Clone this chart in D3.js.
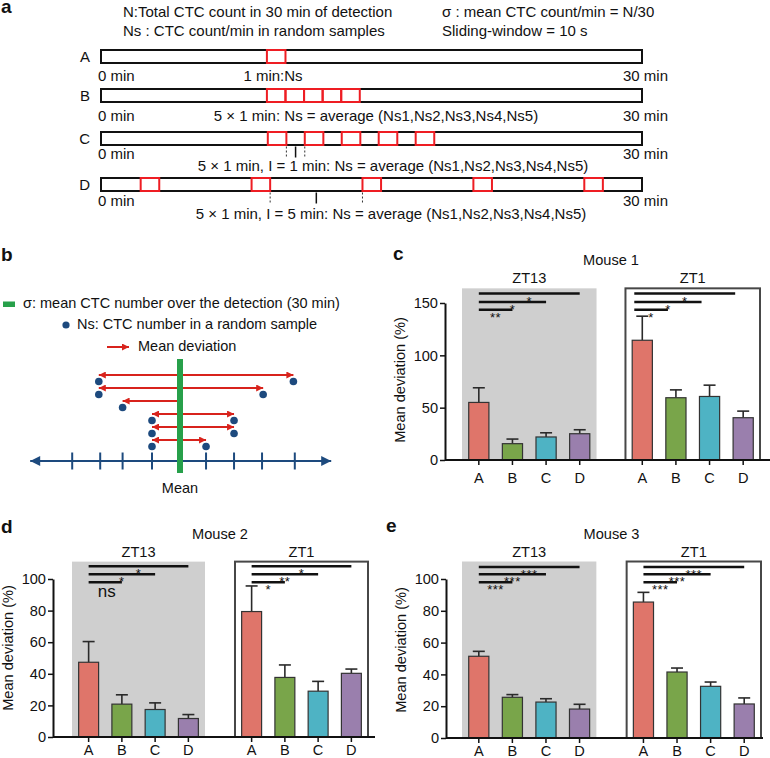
<!DOCTYPE html>
<html><head><meta charset="utf-8">
<script src="https://cdn.jsdelivr.net/npm/d3@7"></script>
<style>
body{margin:0;background:#fff}
svg{display:block;font-family:"Liberation Sans",Arial,Helvetica,sans-serif}
</style>
</head><body>
<svg id="chart" width="770" height="758"></svg>
<script>
// ================= DATA =================
const methods = ['A', 'B', 'C', 'D'];
const groups = ['ZT13', 'ZT1'];

// panel a: start time (min) of each 1-min sampling window
const samplesA = [9.2];
const samplesB = [9.2, 10.23, 11.26, 12.29, 13.32];
const samplesC = [9.25, 11.3, 13.35, 15.4, 17.45];
const samplesD = [2.2, 8.35, 14.5, 20.65, 26.8];
const sampleWidth = 1.03;
const totalMinutes = 30;
const headerLeft = ['N:Total CTC count in 30 min of detection', 'Ns : CTC count/min in random samples'];
const headerRight = ['σ : mean CTC count/min = N/30', 'Sliding-window = 10 s'];
const rowCaptions = [
  '1 min:Ns',
  '5 × 1 min: Ns = average (Ns1,Ns2,Ns3,Ns4,Ns5)',
  '5 × 1 min, I = 1 min: Ns = average (Ns1,Ns2,Ns3,Ns4,Ns5)',
  '5 × 1 min, I = 5 min: Ns = average (Ns1,Ns2,Ns3,Ns4,Ns5)'
];

// panel b: number line (units relative to mean)
const lineTicks = [-3.85, -2.85, -2.05, -1, 0.93, 1.93, 2.93, 4.1];
const sampleLeft = [-2.9, -2.9, -2.05, -1, -1, -1];
const sampleRight = [4.05, 2.97, null, 1.93, 1.93, 0.93];
const legendTexts = ['σ: mean CTC number over the detection (30 min)', 'Ns: CTC number in a random sample', 'Mean deviation'];

// panel c: Mouse 1
const m1Values = [[55, 15.6, 22, 25.1], [114.4, 59.5, 60.7, 40.4]];
const m1Errors = [[14, 4.4, 4, 3.8], [23, 7.5, 10.8, 6.3]];
const m1Sig = [['**', '*', '*'], ['*', '*', '*']];
// panel d: Mouse 2
const m2Values = [[47.3, 20.8, 17.4, 11.7], [79.4, 37.7, 29, 40.3]];
const m2Errors = [[13.1, 5.9, 4.2, 2.5], [16.2, 7.9, 6.2, 2.7]];
const m2Sig = [['ns', '*', '*'], ['*', '**', '*']];
// panel e: Mouse 3
const m3Values = [[51.4, 25.6, 22.6, 18.2], [85.5, 41.5, 32.5, 21.4]];
const m3Errors = [[3.1, 1.7, 2.1, 3], [6.1, 2.5, 2.7, 3.8]];
const m3Sig = [['***', '***', '***'], ['***', '***', '***']];

const barColors = ['#df756a', '#79a54a', '#4eb3c4', '#9a7fad'];

// ================= DRAW =================
const svg = d3.select('#chart');
const FONT = '"Liberation Sans",Arial,Helvetica,sans-serif';
function txt(parent, x, y, s, size, anchor) {
  return parent.append('text').attr('x', x).attr('y', y).attr('font-size', size || 14.6)
    .attr('text-anchor', anchor || 'start').attr('fill', '#111').text(s);
}
function panelLabel(s, x, y) {
  txt(svg, x, y, s, 19).attr('font-weight', 'bold');
}

// ---------- panel a ----------
panelLabel('a', 1, 13);
const gA = svg.append('g');
const FA = 15;
txt(gA, 123, 17, headerLeft[0], FA);
txt(gA, 123, 36, headerLeft[1], FA);
txt(gA, 442, 17, headerRight[0], FA);
txt(gA, 442, 36, headerRight[1], FA);

const tScale = d3.scaleLinear().domain([0, totalMinutes]).range([101, 642]);
const rowCenters = [56.5, 95.5, 138.5, 184.5];
const minLabelOffset = [24.5, 25.5, 20.5, 21.5];
const captionOffset = [24.5, 25.5, 32.5, 34.5];
const captionX = [273, 376, 393, 391];
const barH = 13;
[samplesA, samplesB, samplesC, samplesD].forEach((s, i) => {
  const cy = rowCenters[i];
  gA.append('rect').attr('x', tScale(0)).attr('y', cy - barH / 2)
    .attr('width', tScale(totalMinutes) - tScale(0)).attr('height', barH)
    .attr('fill', '#fff').attr('stroke', '#111').attr('stroke-width', 2);
  gA.selectAll(null).data(s).join('rect')
    .attr('x', d => tScale(d)).attr('y', cy - barH / 2)
    .attr('width', d => tScale(d + sampleWidth) - tScale(d)).attr('height', barH)
    .attr('fill', 'none').attr('stroke', '#ee1d23').attr('stroke-width', 2);
  txt(gA, 90, cy + 5.5, methods[i], FA, 'end');
  txt(gA, 98, cy + minLabelOffset[i], '0 min', FA);
  txt(gA, 668, cy + minLabelOffset[i], totalMinutes + ' min', FA, 'end');
  txt(gA, captionX[i], cy + captionOffset[i], rowCaptions[i], FA, 'middle');
});
// interval markers for C and D
[[samplesC, 2], [samplesD, 3]].forEach(([s, i]) => {
  const k = i === 2 ? 0 : 1;
  const xa = tScale(s[k] + sampleWidth), xb = tScale(s[k + 1]);
  const yb = rowCenters[i] + barH / 2 + 1.5;
  [xa, xb].forEach(xx => gA.append('line').attr('x1', xx).attr('x2', xx).attr('y1', yb).attr('y2', yb + 10)
    .attr('stroke', '#333').attr('stroke-width', 1).attr('stroke-dasharray', '2,2'));
  gA.append('line').attr('x1', (xa + xb) / 2).attr('x2', (xa + xb) / 2).attr('y1', yb).attr('y2', yb + 11)
    .attr('stroke', '#111').attr('stroke-width', 1.5);
});

// ---------- panel b ----------
panelLabel('b', 1, 261);
const gB = svg.append('g');
const defs = svg.append('defs');
function marker(id, color, w, h) {
  defs.append('marker').attr('id', id).attr('viewBox', '0 0 10 10').attr('refX', 10).attr('refY', 5)
    .attr('markerUnits', 'userSpaceOnUse').attr('markerWidth', w).attr('markerHeight', h).attr('orient', 'auto')
    .append('path').attr('d', 'M0,0 L10,5 L0,10 z').attr('fill', color);
}
marker('redHead', '#d8231c', 10, 7);
marker('navyHead', '#1d4a7e', 11, 10);

const nl = d3.scaleLinear().domain([-1, 1]).range([152, 208]);
const navy = '#1d4a7e', red = '#d8231c', green = '#27a04a';
const FB = 14.5;
// legend
gB.append('rect').attr('x', 3).attr('y', 301.5).attr('width', 12).attr('height', 5.5).attr('fill', green);
txt(gB, 23, 308, legendTexts[0], FB);
gB.append('circle').attr('cx', 66).attr('cy', 325).attr('r', 3.6).attr('fill', navy);
txt(gB, 77, 329, legendTexts[1], FB);
gB.append('line').attr('x1', 107).attr('x2', 129).attr('y1', 347).attr('y2', 347)
  .attr('stroke', red).attr('stroke-width', 2).attr('marker-end', 'url(#redHead)');
txt(gB, 138, 351, legendTexts[2], FB);

// number line
const lineY = 461;
gB.append('line').attr('x1', nl(0)).attr('x2', nl(-5.35)).attr('y1', lineY).attr('y2', lineY)
  .attr('stroke', navy).attr('stroke-width', 2.2).attr('marker-end', 'url(#navyHead)');
gB.append('line').attr('x1', nl(0)).attr('x2', nl(5.4)).attr('y1', lineY).attr('y2', lineY)
  .attr('stroke', navy).attr('stroke-width', 2.2).attr('marker-end', 'url(#navyHead)');
gB.selectAll(null).data(lineTicks).join('line')
  .attr('x1', d => nl(d)).attr('x2', d => nl(d)).attr('y1', lineY - 8.5).attr('y2', lineY + 8.5)
  .attr('stroke', navy).attr('stroke-width', 2);
// arrows & dots
const rowY = d3.scalePoint().domain(d3.range(sampleLeft.length)).range([375, 440]);
sampleLeft.forEach((lv, i) => {
  const ry = rowY(i);
  const rv = sampleRight[i];
  gB.append('line').attr('x1', nl(0)).attr('x2', nl(lv)).attr('y1', ry).attr('y2', ry)
    .attr('stroke', red).attr('stroke-width', 2).attr('marker-end', 'url(#redHead)');
  gB.append('circle').attr('cx', nl(lv)).attr('cy', ry + 6.5).attr('r', 3.8).attr('fill', navy);
  if (rv !== null) {
    gB.append('line').attr('x1', nl(0)).attr('x2', nl(rv)).attr('y1', ry).attr('y2', ry)
      .attr('stroke', red).attr('stroke-width', 2).attr('marker-end', 'url(#redHead)');
    gB.append('circle').attr('cx', nl(rv)).attr('cy', ry + 6.5).attr('r', 3.8).attr('fill', navy);
  }
});
// mean bar (on top)
gB.append('rect').attr('x', nl(0) - 3).attr('y', 359).attr('width', 6).attr('height', 114).attr('fill', green);
txt(gB, nl(0), 493, 'Mean', FB, 'middle');

// ---------- bar panels ----------
function barPanel(p) {
  const F = 14.6;
  const g = svg.append('g');
  const y = d3.scaleLinear().domain([0, p.yMax]).range([p.axisY, p.topY]);
  const outer = d3.scaleBand().domain(groups).range([p.left, p.right]).paddingInner(p.gap);
  const inner = d3.scaleBand().domain(methods).range([0, outer.bandwidth()]).paddingInner(0.4).paddingOuter(0.2);
  const bw = inner.bandwidth();
  const boxTop = y(p.boxTop);

  // boxes
  g.append('rect').attr('x', outer('ZT13')).attr('y', boxTop).attr('width', outer.bandwidth())
    .attr('height', p.axisY - boxTop).attr('fill', '#cfcfcf');
  g.append('rect').attr('x', outer('ZT1')).attr('y', boxTop).attr('width', outer.bandwidth())
    .attr('height', p.axisY - boxTop).attr('fill', '#fff').attr('stroke', '#474747').attr('stroke-width', 2);

  // titles
  txt(g, (outer('ZT13') + outer('ZT1') + outer.bandwidth()) / 2, boxTop - 23, p.title, F, 'middle');
  groups.forEach(gr => txt(g, outer(gr) + outer.bandwidth() / 2, boxTop - 5, gr, F, 'middle'));

  groups.forEach((gr, gi) => {
    const gx = outer(gr);
    const vals = p.values[gi], errs = p.errors[gi];
    const bars = g.append('g');
    methods.forEach((m, mi) => {
      const cx = gx + inner(m) + bw / 2;
      const top = y(vals[mi] + errs[mi]);
      bars.append('line').attr('x1', cx).attr('x2', cx).attr('y1', y(vals[mi])).attr('y2', top)
        .attr('stroke', '#2a2a2a').attr('stroke-width', 1.6);
      bars.append('line').attr('x1', cx - 6).attr('x2', cx + 6).attr('y1', top).attr('y2', top)
        .attr('stroke', '#2a2a2a').attr('stroke-width', 1.6);
      bars.append('rect').attr('x', gx + inner(m)).attr('y', y(vals[mi]))
        .attr('width', bw).attr('height', p.axisY - y(vals[mi]))
        .attr('fill', barColors[mi]).attr('stroke', '#333').attr('stroke-width', 1.2);
    });
    // significance brackets
    const off = p.sigOffset[gi];
    p.sig[gi].forEach((lab, k) => {
      const xs = gx + inner('A') + bw / 2 + off;
      const xe = gx + inner(methods[k + 1]) + bw / 2 + off;
      const ly = y(p.levels[k]);
      g.append('line').attr('x1', xs).attr('x2', xe).attr('y1', ly).attr('y2', ly)
        .attr('stroke', '#111').attr('stroke-width', 2.5);
      if (lab === 'ns') {
        txt(g, (xs + xe) / 2 + 1.5, ly + 15, lab, 17, 'middle');
      } else {
        txt(g, (xs + xe) / 2, ly + 12, lab, 13, 'middle').attr('letter-spacing', 0.5);
      }
    });
    // x axis ticks + labels
    const ax = d3.axisBottom(inner).tickSize(5).tickPadding(p.xPad).tickSizeOuter(0);
    const axg = g.append('g').attr('transform', `translate(${gx},${p.axisY})`).call(ax);
    axg.select('.domain').remove();
    axg.selectAll('line').attr('stroke', '#111').attr('stroke-width', 1.5);
    axg.selectAll('text').attr('font-size', F).attr('fill', '#111').attr('font-family', FONT);
  });

  // baseline
  g.append('line').attr('x1', p.yAxisX).attr('x2', p.lineEnd).attr('y1', p.axisY).attr('y2', p.axisY)
    .attr('stroke', '#111').attr('stroke-width', 2);
  // y axis
  const yg = g.append('g').attr('transform', `translate(${p.yAxisX},0)`)
    .call(d3.axisLeft(y).tickValues(d3.range(0, p.yMax + 1, p.step)).tickSize(5).tickPadding(2).tickSizeOuter(0));
  yg.select('.domain').attr('stroke', '#111').attr('stroke-width', 2);
  yg.selectAll('line').attr('stroke', '#111').attr('stroke-width', 1.5);
  yg.selectAll('text').attr('font-size', F).attr('fill', '#111').attr('font-family', FONT);
  txt(g, 0, 0, 'Mean deviation (%)', F, 'middle')
    .attr('transform', `translate(${p.yAxisX - 40},${p.yLabelY}) rotate(-90)`);
}

panelLabel('c', 393, 260);
barPanel({title: 'Mouse 1', values: m1Values, errors: m1Errors, sig: m1Sig,
  yMax: 150, step: 50, axisY: 460, topY: 303, left: 462, right: 760, gap: 0.177,
  yAxisX: 445, lineEnd: 770, boxTop: 164, levels: [143.5, 151, 159], sigOffset: [0, -8],
  xPad: 8, yLabelY: 380});

panelLabel('d', 1, 533);
barPanel({title: 'Mouse 2', values: m2Values, errors: m2Errors, sig: m2Sig,
  yMax: 100, step: 20, axisY: 737, topY: 579, left: 72, right: 368, gap: 0.184,
  yAxisX: 53, lineEnd: 375, boxTop: 111, levels: [98, 103, 108], sigOffset: [0, 0],
  xPad: 3, yLabelY: 648});

panelLabel('e', 386, 532);
barPanel({title: 'Mouse 3', values: m3Values, errors: m3Errors, sig: m3Sig,
  yMax: 100, step: 20, axisY: 738, topY: 579, left: 462, right: 761, gap: 0.184,
  yAxisX: 446, lineEnd: 763, boxTop: 111, levels: [98, 103, 107.5], sigOffset: [0, 0],
  xPad: 3, yLabelY: 650});
</script>
</body></html>
